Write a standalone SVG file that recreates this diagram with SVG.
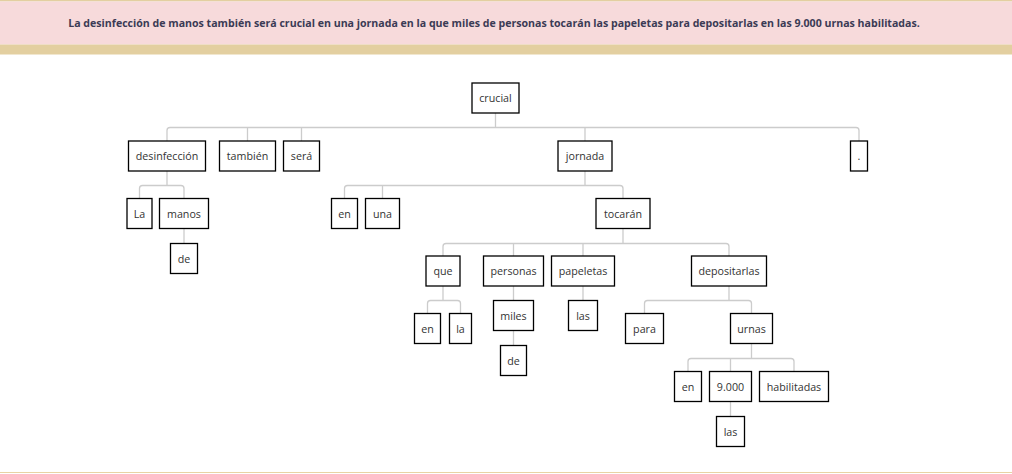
<svg xmlns="http://www.w3.org/2000/svg" width="1012" height="474" viewBox="0 0 1012 474">
<style>
.n rect{fill:#fff;stroke:#000;stroke-width:1.3}
.n text{font-family:"Open Sans",sans-serif;font-size:10.7px;fill:#333;text-anchor:middle;dominant-baseline:central}
#connectors path{fill:none;stroke:#cccccc;stroke-width:1.3}
.hdr{font-family:"Open Sans",sans-serif;font-size:10.6px;font-weight:700;fill:#3b3b55;text-anchor:middle;dominant-baseline:central}
</style>
<rect x="0" y="0" width="1012" height="474" fill="#fff"/>
<rect x="0" y="0" width="1012" height="1.5" fill="#e3cfa0"/>
<rect x="0" y="1.5" width="1012" height="43" fill="#f7dadb"/>
<rect x="0" y="44.5" width="1012" height="10" fill="#e3cfa0"/>
<rect x="0" y="472" width="1012" height="1" fill="#e8d3a4"/>
<text class="hdr" x="494" y="22.5">La desinfección de manos también será crucial en una jornada en la que miles de personas tocarán las papeletas para depositarlas en las 9.000 urnas habilitadas.</text>
<g id="connectors">
<path d="M495.5 113V127.5M167 141V130.5Q167 127.5 170 127.5H856Q859 127.5 859 130.5V141M247.5 127.5V141M301.5 127.5V141M585 127.5V141"/>
<path d="M167 171V185.5M139.5 198.5V188.5Q139.5 185.5 142.5 185.5H181Q184 185.5 184 188.5V198.5"/>
<path d="M184 228.5V243.5"/>
<path d="M585 171V185.5M344.5 198.5V188.5Q344.5 185.5 347.5 185.5H620Q623 185.5 623 188.5V198.5M382.5 185.5V198.5"/>
<path d="M623 228.5V243.5M443 256V246.5Q443 243.5 446 243.5H726Q729 243.5 729 246.5V256M513.5 243.5V256M583 243.5V256"/>
<path d="M443 286V300.5M427.5 313.5V303.5Q427.5 300.5 430.5 300.5H457.5Q460.5 300.5 460.5 303.5V313.5"/>
<path d="M513.5 286V300.5M513.5 330.5V345.5M583 286V300.5"/>
<path d="M729 286V300.5M644.5 313.5V303.5Q644.5 300.5 647.5 300.5H748.5Q751.5 300.5 751.5 303.5V313.5"/>
<path d="M751.5 343.5V358.5M688 371.5V361.5Q688 358.5 691 358.5H791Q794 358.5 794 361.5V371.5M730.5 358.5V371.5"/>
<path d="M730.5 401.5V416.5"/>
</g>
<g id="n-crucial" class="n"><rect x="472" y="83" width="47" height="30"/><text x="495.5" y="98">crucial</text></g>
<g id="n-desinfeccion" class="n"><rect x="128.5" y="141" width="77" height="30"/><text x="167" y="156">desinfección</text></g>
<g id="n-tambien" class="n"><rect x="219.5" y="141" width="56" height="30"/><text x="247.5" y="156">también</text></g>
<g id="n-sera" class="n"><rect x="283.5" y="141" width="36" height="30"/><text x="301.5" y="156">será</text></g>
<g id="n-jornada" class="n"><rect x="558" y="141" width="54" height="30"/><text x="585" y="156">jornada</text></g>
<g id="n-punto" class="n"><rect x="850.5" y="141" width="17" height="30"/><text x="859" y="156">.</text></g>
<g id="n-La" class="n"><rect x="127" y="198.5" width="25" height="30"/><text x="139.5" y="213.5">La</text></g>
<g id="n-manos" class="n"><rect x="159.5" y="198.5" width="49" height="30"/><text x="184" y="213.5">manos</text></g>
<g id="n-de1" class="n"><rect x="170.5" y="243.5" width="27" height="30"/><text x="184" y="258.5">de</text></g>
<g id="n-en1" class="n"><rect x="331.5" y="198.5" width="26" height="30"/><text x="344.5" y="213.5">en</text></g>
<g id="n-una" class="n"><rect x="365.5" y="198.5" width="34" height="30"/><text x="382.5" y="213.5">una</text></g>
<g id="n-tocaran" class="n"><rect x="596" y="198.5" width="54" height="30"/><text x="623" y="213.5">tocarán</text></g>
<g id="n-que" class="n"><rect x="426" y="256" width="34" height="30"/><text x="443" y="271">que</text></g>
<g id="n-personas" class="n"><rect x="483.5" y="256" width="60" height="30"/><text x="513.5" y="271">personas</text></g>
<g id="n-papeletas" class="n"><rect x="551.5" y="256" width="63" height="30"/><text x="583" y="271">papeletas</text></g>
<g id="n-depositarlas" class="n"><rect x="691.5" y="256" width="75" height="30"/><text x="729" y="271">depositarlas</text></g>
<g id="n-en2" class="n"><rect x="414.5" y="313.5" width="26" height="30"/><text x="427.5" y="328.5">en</text></g>
<g id="n-la" class="n"><rect x="449.5" y="313.5" width="22" height="30"/><text x="460.5" y="328.5">la</text></g>
<g id="n-miles" class="n"><rect x="493.5" y="300.5" width="40" height="30"/><text x="513.5" y="315.5">miles</text></g>
<g id="n-de2" class="n"><rect x="500.5" y="345.5" width="26" height="30"/><text x="513.5" y="360.5">de</text></g>
<g id="n-las1" class="n"><rect x="568.5" y="300.5" width="29" height="30"/><text x="583" y="315.5">las</text></g>
<g id="n-para" class="n"><rect x="625.5" y="313.5" width="38" height="30"/><text x="644.5" y="328.5">para</text></g>
<g id="n-urnas" class="n"><rect x="730.5" y="313.5" width="42" height="30"/><text x="751.5" y="328.5">urnas</text></g>
<g id="n-en3" class="n"><rect x="674.5" y="371.5" width="27" height="30"/><text x="688" y="386.5">en</text></g>
<g id="n-9000" class="n"><rect x="709.5" y="371.5" width="42" height="30"/><text x="730.5" y="386.5">9.000</text></g>
<g id="n-habilitadas" class="n"><rect x="759.5" y="371.5" width="69" height="30"/><text x="794" y="386.5">habilitadas</text></g>
<g id="n-las2" class="n"><rect x="716.5" y="416.5" width="28" height="30"/><text x="730.5" y="431.5">las</text></g>
</svg>
